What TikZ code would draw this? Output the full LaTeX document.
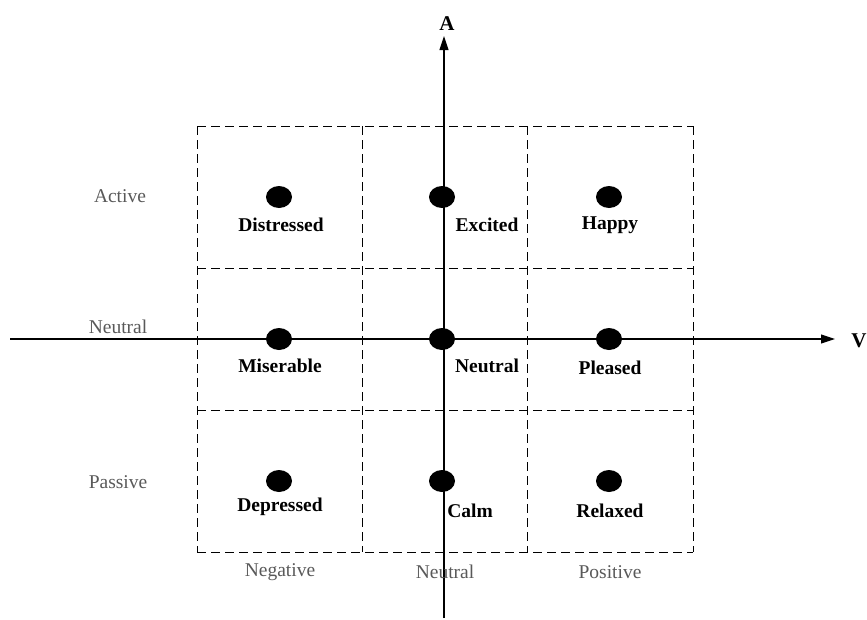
\documentclass[tikz,border=0pt]{standalone}
\usepackage{fontspec}
\setmainfont{Liberation Serif}
\usetikzlibrary{arrows.meta,shapes.geometric}

\tikzset{
  emo/.style={shape=ellipse, fill=black, minimum width=26pt, minimum height=22pt, inner sep=0pt},
  lbl/.style={font=\fontsize{19.5}{22}\selectfont\bfseries, inner sep=0pt},
  side/.style={font=\fontsize{19.5}{22}\selectfont, text=black!65, inner sep=0pt},
  cell/.style={draw, dash pattern=on 9pt off 5pt, line width=0.9pt},
  axis/.style={line width=1.1pt, -{Triangle[length=14pt,width=9pt]}}
}

\begin{document}
\begin{tikzpicture}[x=1pt, y=-1pt]
  \useasboundingbox (0,0) rectangle (867,619);

  % dashed grid
  \foreach \gx in {197,362,527,693}{
    \draw[cell] (\gx,126) -- (\gx,552);
  }
  \foreach \gy in {126,268,410,552}{
    \draw[cell] (197,\gy) -- (693,\gy);
  }

  % axes
  \coordinate (vs) at (10,339);
  \coordinate (ve) at (835,339);
  \coordinate (as) at (444,618);
  \coordinate (ae) at (444,36);
  \draw[axis] (vs) -- (ve);
  \draw[axis] (as) -- (ae);
  \node[font=\fontsize{21}{23}\selectfont\bfseries] (alabel) at (447,24) {A};
  \node[font=\fontsize{21}{23}\selectfont\bfseries] (vlabel) at (859,341) {V};

  % emotion points
  \node[emo] (distressed) at (279,197) {};
  \node[emo] (excited)    at (442,197) {};
  \node[emo] (happy)      at (609,197) {};
  \node[emo] (miserable)  at (279,339) {};
  \node[emo] (neutral)    at (442,339) {};
  \node[emo] (pleased)    at (609,339) {};
  \node[emo] (depressed)  at (279,481) {};
  \node[emo] (calm)       at (442,481) {};
  \node[emo] (relaxed)    at (609,481) {};

  \node[lbl] at (281,225) {Distressed};
  \node[lbl] at (487,225) {Excited};
  \node[lbl] at (610,225) {Happy};
  \node[lbl] at (280,366) {Miserable};
  \node[lbl] at (487,366) {Neutral};
  \node[lbl] at (610,368) {Pleased};
  \node[lbl] at (280,507) {Depressed};
  \node[lbl] at (470,511) {Calm};
  \node[lbl] at (610,511) {Relaxed};

  % arousal levels
  \node[side] at (120,196) {Active};
  \node[side] at (118,327) {Neutral};
  \node[side] at (118,482) {Passive};

  % valence levels
  \node[side] at (280,572) {Negative};
  \node[side] at (445,572) {Neutral};
  \node[side] at (610,572) {Positive};
\end{tikzpicture}
\end{document}
